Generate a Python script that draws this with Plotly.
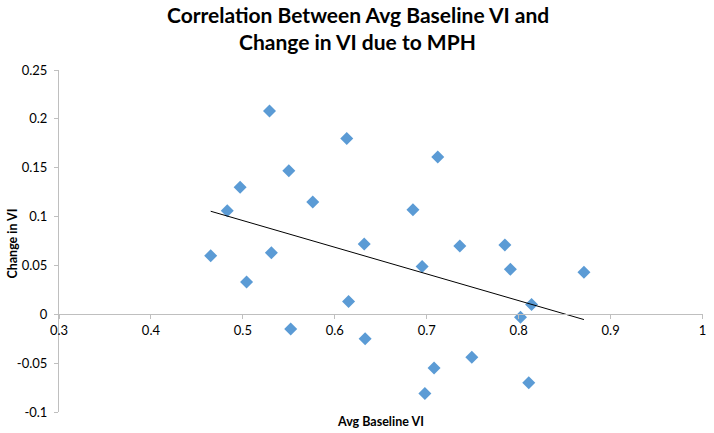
import numpy as np
import plotly.graph_objects as go

# ---- data ----
baseline_vi = [0.465, 0.483, 0.497, 0.504, 0.529, 0.531, 0.550, 0.552, 0.576,
               0.613, 0.615, 0.632, 0.633, 0.685, 0.695, 0.698, 0.708, 0.712,
               0.736, 0.749, 0.785, 0.791, 0.802, 0.811, 0.814, 0.871]
change_vi = [0.060, 0.106, 0.130, 0.033, 0.208, 0.063, 0.147, -0.015, 0.115,
             0.180, 0.013, 0.072, -0.025, 0.107, 0.049, -0.081, -0.055, 0.161,
             0.070, -0.044, 0.071, 0.046, -0.003, -0.070, 0.010, 0.043]

x_tick_vals = [0.3, 0.4, 0.5, 0.6, 0.7, 0.8, 0.9, 1.0]
x_tick_text = ["0.3", "0.4", "0.5", "0.6", "0.7", "0.8", "0.9", "1"]
y_tick_vals = [-0.1, -0.05, 0, 0.05, 0.1, 0.15, 0.2, 0.25]
y_tick_text = ["-0.1", "-0.05", "0", "0.05", "0.1", "0.15", "0.2", "0.25"]

title_line1 = "Correlation Between Avg Baseline VI and"
title_line2 = "Change in VI due to MPH"
x_title = "Avg Baseline VI"
y_title = "Change in VI"

# linear trendline (least squares) over the data range
slope, intercept = np.polyfit(baseline_vi, change_vi, 1)
fit_x = [min(baseline_vi), max(baseline_vi)]
fit_y = [slope * v + intercept for v in fit_x]

FONT = "Lato"
AXIS_GRAY = "#bfbfbf"
MARKER_BLUE = "#5b9bd5"

x_range = [0.3, 1.0005]
y_range = [-0.1, 0.25]

fig = go.Figure()
fig.add_trace(go.Scatter(
    x=baseline_vi, y=change_vi, mode="markers",
    marker=dict(symbol="diamond", size=10, color=MARKER_BLUE, line=dict(width=0)),
    showlegend=False, hoverinfo="x+y"))
fig.add_trace(go.Scatter(
    x=fit_x, y=fit_y, mode="lines",
    line=dict(color="#000000", width=1),
    showlegend=False, hoverinfo="skip"))

fig.update_layout(
    width=714, height=433,
    margin=dict(l=59, r=8, t=70, b=21),
    paper_bgcolor="white", plot_bgcolor="white",
    font=dict(family=FONT, color="#000000", size=13),
    xaxis=dict(range=x_range, tickvals=x_tick_vals, ticktext=x_tick_text,
               showgrid=False, zeroline=False, showline=True, linecolor=AXIS_GRAY,
               linewidth=1, ticks="outside", ticklen=4, tickcolor=AXIS_GRAY,
               anchor="free",
               position=(0 - y_range[0]) / (y_range[1] - y_range[0]),
               tickfont=dict(family=FONT, size=13, color="#000000")),
    yaxis=dict(range=y_range, tickvals=y_tick_vals, ticktext=y_tick_text,
               showgrid=False, zeroline=False, showline=True, linecolor=AXIS_GRAY,
               linewidth=1, ticks="outside", ticklen=4, tickcolor=AXIS_GRAY,
               ticklabelstandoff=4,
               tickfont=dict(family=FONT, size=13, color="#000000")),
    annotations=[
        dict(text="<b>" + title_line1 + "</b>", xref="paper", yref="paper",
             x=0.4637, y=1.1637, xanchor="center", yanchor="middle",
             showarrow=False, font=dict(family=FONT, size=21, color="#000000")),
        dict(text="<b>" + title_line2 + "</b>", xref="paper", yref="paper",
             x=0.4637, y=1.0819, xanchor="center", yanchor="middle",
             showarrow=False, font=dict(family=FONT, size=21, color="#000000")),
        dict(text="<b>" + x_title + "</b>", xref="paper", yref="paper",
             x=0.4992, y=-0.0284, xanchor="center", yanchor="middle",
             showarrow=False, font=dict(family=FONT, size=12.5, color="#000000")),
        dict(text="<b>" + y_title + "</b>", xref="paper", yref="paper",
             x=-0.0722, y=0.491, xanchor="center", yanchor="middle",
             textangle=-90, showarrow=False,
             font=dict(family=FONT, size=12.5, color="#000000")),
    ],
)

# remove the page's default 8px body margin so the 714x433 figure fills the window
fig.write_html("out.html", config={"displayModeBar": False},
               post_script="document.body.style.margin='0px';")
